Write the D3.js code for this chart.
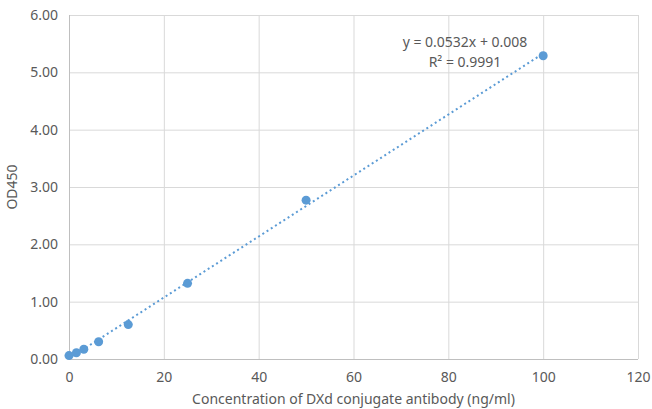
<!DOCTYPE html>
<html>
<head>
<meta charset="utf-8">
<script src="https://cdn.jsdelivr.net/npm/d3@7"></script>
<style>
body { margin: 0; background: #fff; }
text { font-family: "Noto Sans", "DejaVu Sans", sans-serif; fill: #595959; }
</style>
</head>
<body>
<div id="chart"></div>
<script>
var svgWidth = 652;
var svgHeight = 409;

var concentration = [0, 1.5625, 3.125, 6.25, 12.5, 25, 50, 100];
var od450 = [0.06, 0.11, 0.17, 0.30, 0.60, 1.32, 2.77, 5.29];
var xTicks = [0, 20, 40, 60, 80, 100, 120];
var yTicks = [0, 1, 2, 3, 4, 5, 6];
var slope = 0.0532;
var intercept = 0.008;
var equationText = ["y = 0.0532x + 0.008", "R\u00b2 = 0.9991"];

var margin = { top: 15, left: 69, right: 14, bottom: 50 };
var width = svgWidth - margin.left - margin.right;
var height = svgHeight - margin.top - margin.bottom;

var svg = d3.select("#chart").append("svg").attr("width", svgWidth).attr("height", svgHeight);
var chartGroup = svg.append("g").attr("transform", `translate(${margin.left},${margin.top})`);

var xScale = d3.scaleLinear().domain([0, 120]).range([0, width]);
var yScale = d3.scaleLinear().domain([0, 6]).range([height, 0]);

// gridlines
chartGroup.selectAll(".hgrid").data(yTicks).enter().append("line")
    .attr("x1", 0).attr("x2", width)
    .attr("y1", d => yScale(d) + 0.5).attr("y2", d => yScale(d) + 0.5)
    .attr("stroke", d => d === 0 ? "#bfbfbf" : "#d9d9d9").attr("stroke-width", 1);
chartGroup.selectAll(".vgrid").data(xTicks).enter().append("line")
    .attr("y1", 0).attr("y2", height)
    .attr("x1", d => xScale(d) + 0.5).attr("x2", d => xScale(d) + 0.5)
    .attr("stroke", d => d === 0 ? "#bfbfbf" : "#d9d9d9").attr("stroke-width", 1);

// axes (labels only)
var bottomAxis = d3.axisBottom(xScale).tickValues(xTicks).tickSize(0).tickPadding(13).tickFormat(d3.format("d"));
var leftAxis = d3.axisLeft(yScale).tickValues(yTicks).tickSize(0).tickPadding(11).tickFormat(d3.format(".2f"));

var xAxis = chartGroup.append("g").attr("transform", `translate(0,${height})`).call(bottomAxis);
var yAxis = chartGroup.append("g").call(leftAxis);
[xAxis, yAxis].forEach(function(a) {
    a.select(".domain").remove();
    a.selectAll("text").attr("font-size", "14px").attr("fill", "#595959")
        .style("font-family", "'Noto Sans', 'DejaVu Sans', sans-serif");
});

// trendline
chartGroup.append("line")
    .attr("x1", xScale(0)).attr("y1", yScale(intercept))
    .attr("x2", xScale(100)).attr("y2", yScale(slope * 100 + intercept))
    .attr("stroke", "#5b9bd5").attr("stroke-width", 2)
    .attr("stroke-dasharray", "2,3");

// points
chartGroup.selectAll("circle").data(concentration).enter().append("circle")
    .attr("cx", d => xScale(d))
    .attr("cy", (d, i) => yScale(od450[i]))
    .attr("r", 4.5)
    .attr("fill", "#5b9bd5");

// equation
chartGroup.selectAll(".eq").data(equationText).enter().append("text")
    .attr("x", 396).attr("y", (d, i) => 32 + i * 20)
    .attr("text-anchor", "middle").attr("font-size", "14px")
    .text(d => d);

// axis titles
svg.append("text")
    .attr("x", margin.left + width / 2).attr("y", 404)
    .attr("text-anchor", "middle").attr("font-size", "14px")
    .text("Concentration of DXd conjugate antibody (ng/ml)");
svg.append("text")
    .attr("transform", `translate(17,${margin.top + height / 2}) rotate(-90)`)
    .attr("text-anchor", "middle").attr("font-size", "14px")
    .text("OD450");
</script>
</body>
</html>
